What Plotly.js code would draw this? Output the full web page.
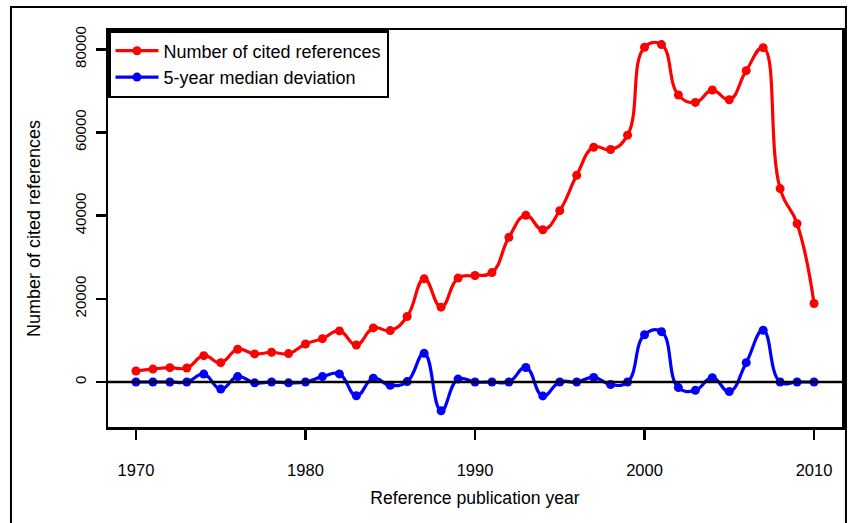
<!DOCTYPE html>
<html>
<head>
<meta charset="utf-8">
<script src="https://cdn.plot.ly/plotly-3.0.1.min.js"></script>
<style>html,body{margin:0;padding:0;background:#fff;}#chart{width:848px;height:523px;}</style>
</head>
<body>
<div id="chart"></div>
<script>
const years = [1970,1971,1972,1973,1974,1975,1976,1977,1978,1979,1980,1981,1982,1983,1984,1985,1986,1987,1988,1989,1990,1991,1992,1993,1994,1995,1996,1997,1998,1999,2000,2001,2002,2003,2004,2005,2006,2007,2008,2009,2010];
const citedRefs = [2650,3100,3450,3370,6340,4650,7870,6750,7150,6830,9150,10430,12290,8900,13000,12370,15740,24800,18000,24980,25600,26300,34780,40070,36600,41200,49700,56450,55900,59350,80480,81130,69000,67230,70200,67870,74870,80400,46500,38070,18870];
const medianDev = [0,0,0,0,1900,-1700,1300,-200,0,-200,0,1300,1950,-3300,900,-800,100,6900,-6900,700,0,0,0,3500,-3350,0,0,1100,-600,0,11350,12100,-1350,-2000,1050,-2300,4650,12450,0,0,0];
const xTicks = [1970,1980,1990,2000,2010];
const yTicks = [0,20000,40000,60000,80000];
const seriesNames = ["Number of cited references","5-year median deviation"];

const FONT = "Liberation Sans, Arial, Helvetica, sans-serif";

const traces = [
  {x: years, y: citedRefs, name: seriesNames[0], type: "scatter", mode: "lines+markers",
   line: {color: "#ff0000", width: 3.2, shape: "spline", smoothing: 1.3},
   marker: {color: "#ff0000", size: 9}},
  {x: years, y: medianDev, name: seriesNames[1], type: "scatter", mode: "lines+markers",
   line: {color: "#0000ff", width: 3.2, shape: "spline", smoothing: 1.3},
   marker: {color: "#0000ff", size: 9}}
];

const layout = {
  width: 848, height: 523,
  margin: {l: 108, r: 6, t: 30, b: 96, pad: 0},
  paper_bgcolor: "#ffffff", plot_bgcolor: "#ffffff",
  font: {family: FONT, color: "#000", size: 16},
  showlegend: true,
  legend: {x: 0, y: 1, xanchor: "left", yanchor: "top",
    bgcolor: "#ffffff", bordercolor: "#000", borderwidth: 2.5,
    font: {family: FONT, size: 18, color: "#000"}, itemwidth: 43, tracegroupgap: 0},
  xaxis: {range: [1968.35, 2011.65], tickvals: xTicks, ticktext: xTicks.map(String),
    ticks: "outside", ticklen: 10, tickwidth: 2.5, tickcolor: "#000",
    ticklabelstandoff: 17,
    showline: true, mirror: true, linecolor: "#000", linewidth: 2.5,
    showgrid: false, zeroline: false,
    tickfont: {family: FONT, size: 16.5, color: "#000"},
    title: {text: "Reference publication year", font: {family: FONT, size: 17.6, color: "#000"}, standoff: 14}},
  yaxis: {range: [-10820, 84640], tickvals: yTicks, ticktext: yTicks.map(String),
    tickangle: -90,
    ticks: "outside", ticklen: 10, tickwidth: 2.5, tickcolor: "#000",
    ticklabelstandoff: 4,
    showline: true, mirror: true, linecolor: "#000", linewidth: 2.5,
    showgrid: false, zeroline: false,
    tickfont: {family: FONT, size: 15, color: "#000"},
    title: {text: "Number of cited references", font: {family: FONT, size: 18, color: "#000"}, standoff: 26}},
  shapes: [
    {type: "line", xref: "paper", yref: "y", x0: 0, x1: 1, y0: 0, y1: 0,
     line: {color: "#000", width: 2.5}, layer: "above"},
    {type: "rect", xref: "paper", yref: "paper", x0: -0.1322, x1: 1.0054, y0: -0.245, y1: 1.058,
     line: {color: "#000", width: 2}, fillcolor: "rgba(0,0,0,0)", layer: "above"}
  ]
};

Plotly.newPlot("chart", traces, layout, {displayModeBar: false, staticPlot: true});
</script>
</body>
</html>
